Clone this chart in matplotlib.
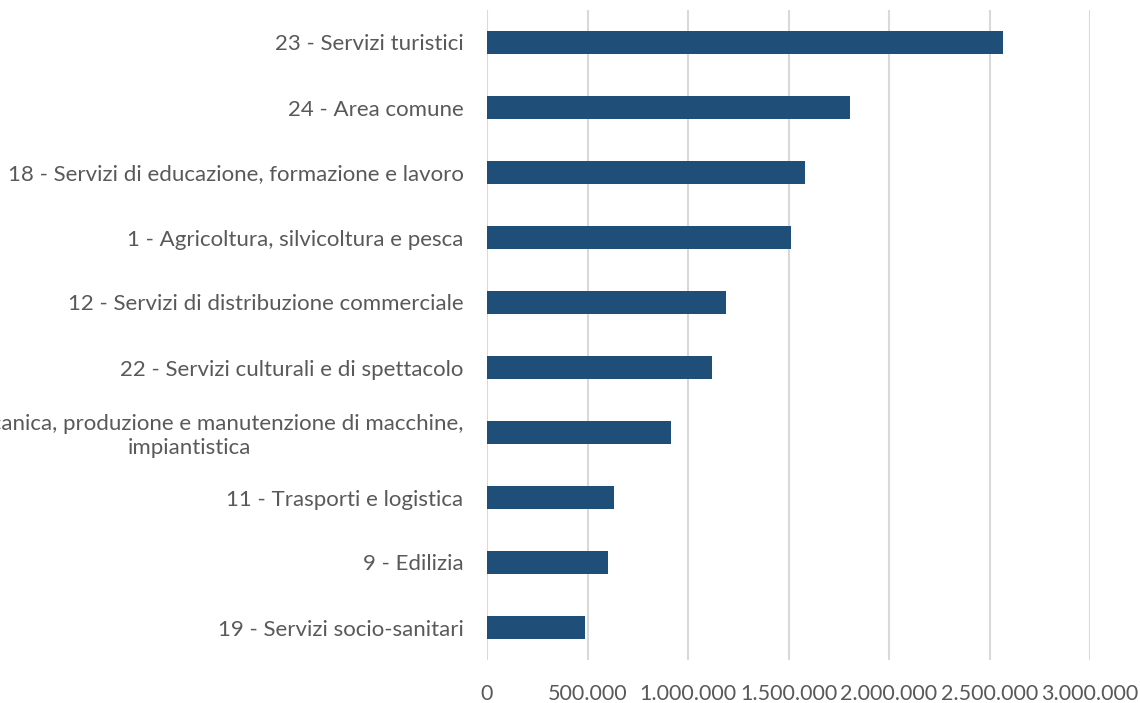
import matplotlib
matplotlib.use("Agg")
import matplotlib.pyplot as plt
from matplotlib.ticker import FuncFormatter, MultipleLocator

categories = [
    "23 - Servizi turistici",
    "24 - Area comune",
    "18 - Servizi di educazione, formazione e lavoro",
    "1 - Agricoltura, silvicoltura e pesca",
    "12 - Servizi di distribuzione commerciale",
    "22 - Servizi culturali e di spettacolo",
    "7 - Meccanica, produzione e manutenzione di macchine,\nimpiantistica",
    "11 - Trasporti e logistica",
    "9 - Edilizia",
    "19 - Servizi socio-sanitari",
]
values = [2568000, 1806000, 1583000, 1512000, 1188000, 1118000, 915000, 633000, 600000, 487000]

plt.rcParams['font.family'] = ['Lato', 'DejaVu Sans']

fig = plt.figure(figsize=(11.4, 7.03), dpi=100)
ax = fig.add_axes([487/1140, 1 - 660/703, (1090 - 487)/1140, 650/703])

ypos = list(range(len(categories)))
ax.barh(ypos, values, height=0.35, color='#1F4E79', zorder=3)
ax.set_ylim(len(categories) - 0.5, -0.5)
ax.set_xlim(0, 3000000)
ax.xaxis.set_major_locator(MultipleLocator(500000))
ax.xaxis.set_major_formatter(FuncFormatter(lambda v, p: f"{int(v):,}".replace(",", ".")))
ax.set_yticks(ypos)
ax.set_yticklabels(categories, multialignment='center')

ax.grid(axis='x', color='#d9d9d9', linewidth=1.5, zorder=0)
for s in ax.spines.values():
    s.set_visible(False)
ax.tick_params(axis='y', length=0, labelsize=16, labelcolor='#595959', pad=17)
ax.tick_params(axis='x', length=0, labelsize=15.5, labelcolor='#595959', pad=17)

fig.savefig("out.png", dpi=100)
